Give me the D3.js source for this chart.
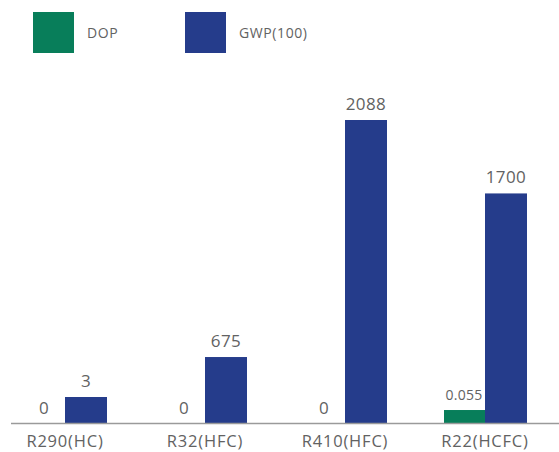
<!DOCTYPE html>
<html>
<head>
<meta charset="utf-8">
<script src="https://cdn.jsdelivr.net/npm/d3@7"></script>
<style>
  body { margin: 0; background: #fff; }
  text { font-family: "Open Sans", sans-serif; fill: #626262; }
</style>
</head>
<body>
<div class="chart"></div>
<script>
const categories = ["R290(HC)", "R32(HFC)", "R410(HFC)", "R22(HCFC)"];
const dop = [0, 0, 0, 0.055];
const gwp = [3, 675, 2088, 1700];
const dopLabels = ["0", "0", "0", "0.055"];
const gwpLabels = ["3", "675", "2088", "1700"];

const width = 559;
const height = 452;
const base = 423;
const green = "#087e5a";
const blue = "#253c8b";

const svg = d3.select('.chart')
    .append('svg')
    .attr('width', width)
    .attr('height', height)

const x = d3.scaleBand()
    .domain(categories)
    .range([-5, 555])
    .paddingInner(0.4)
    .paddingOuter(0.2);

const gwpH = d3.scalePow().exponent(1.35).domain([0, 2088]).range([0, 303]);
const dopH = d3.scaleLinear().domain([0, 1]).range([0, 236]);
const barW = 42;

// legend
const legend = [["DOP", green, 33], ["GWP(100)", blue, 185]];
legend.forEach(l => {
    svg.append('rect').attr('x', l[2]).attr('y', 12).attr('width', 41).attr('height', 41).attr('fill', l[1]);
    svg.append('text').attr('x', l[2] + 54).attr('y', 33).attr('dy', '0.35em')
        .attr('font-size', 14).attr('letter-spacing', 0.6).text(l[0]);
})

const data = categories.map((c, i) => ({c, dop: dop[i], gwp: gwp[i], dl: dopLabels[i], gl: gwpLabels[i]}));
const cx = d => x(d.c) + x.bandwidth() / 2;

// GWP bars
const gh = d => Math.max(gwpH(d.gwp), 26);
svg.selectAll('rect.gwp')
    .data(data)
    .enter()
    .append('rect')
    .attr('class', 'gwp')
    .attr('x', d => cx(d))
    .attr('y', d => base - gh(d))
    .attr('width', barW)
    .attr('height', d => gh(d))
    .attr('fill', blue);

svg.selectAll('text.gwpl')
    .data(data)
    .enter()
    .append('text')
    .attr('class', 'gwpl')
    .attr('x', d => cx(d) + barW / 2)
    .attr('y', d => base - gh(d) - 10)
    .attr('text-anchor', 'middle')
    .attr('font-size', 17)
    .attr('letter-spacing', 0.4)
    .text(d => d.gl);

// DOP bars
svg.selectAll('rect.dop')
    .data(data.filter(d => d.dop > 0))
    .enter()
    .append('rect')
    .attr('class', 'dop')
    .attr('x', d => cx(d) - barW + 1)
    .attr('y', d => base - dopH(d.dop))
    .attr('width', barW - 1)
    .attr('height', d => dopH(d.dop))
    .attr('fill', green);

svg.selectAll('text.dopl')
    .data(data)
    .enter()
    .append('text')
    .attr('class', 'dopl')
    .attr('x', d => cx(d) - barW / 2)
    .attr('y', d => base - dopH(d.dop) - (d.dop > 0 ? 10 : 9))
    .attr('text-anchor', 'middle')
    .attr('font-size', d => d.dop > 0 ? 14 : 17)
    .attr('letter-spacing', 0.3)
    .text(d => d.dl);

// baseline
svg.append('line')
    .attr('x1', 11).attr('x2', width)
    .attr('y1', base + 0.5).attr('y2', base + 0.5)
    .attr('stroke', '#9a9a9a').attr('stroke-width', 1.5);

svg.selectAll('text.cat')
    .data(data)
    .enter()
    .append('text')
    .attr('class', 'cat')
    .attr('x', d => cx(d))
    .attr('y', 447)
    .attr('text-anchor', 'middle')
    .attr('font-size', 16.5)
    .attr('letter-spacing', 0.8)
    .text(d => d.c);
</script>
</body>
</html>
